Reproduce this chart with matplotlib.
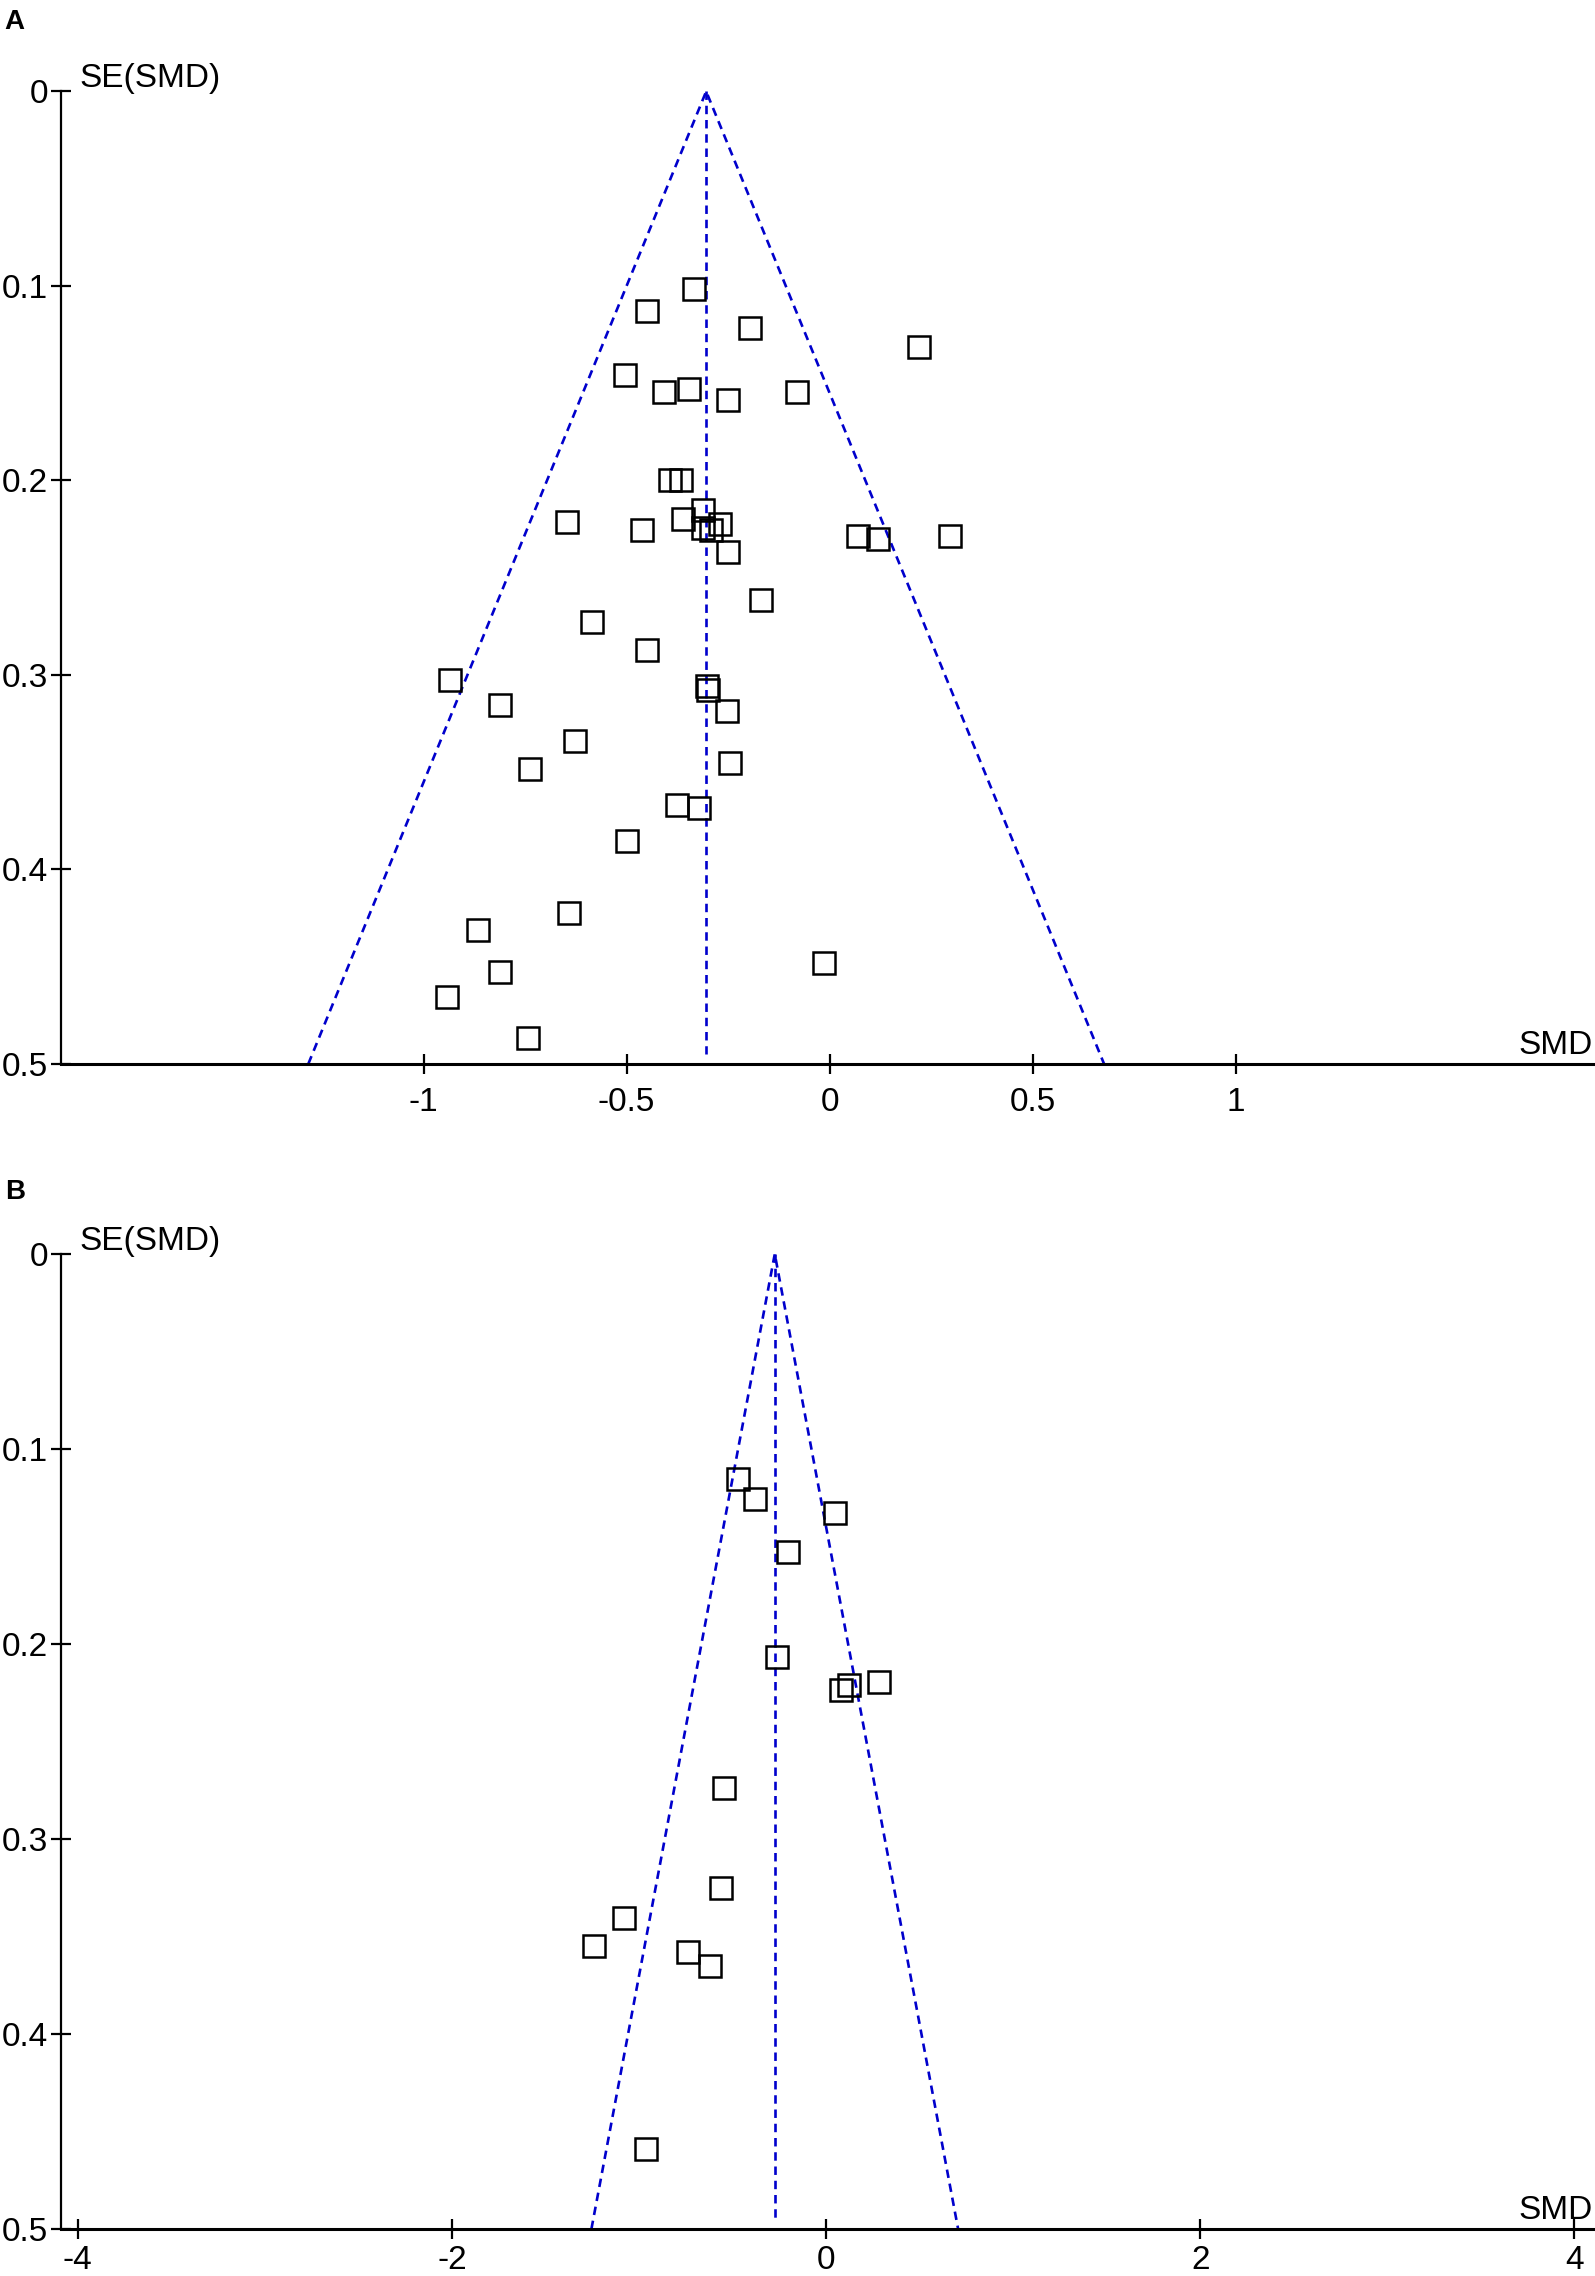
import matplotlib
matplotlib.use('Agg')
import matplotlib.pyplot as plt

plt.rcParams['font.family'] = ['Liberation Sans', 'DejaVu Sans']
plt.rcParams['axes.unicode_minus'] = False

# Panel A: SMD y SE(SMD) de cada estudio
smd_a = [-0.333, -0.449, -0.196, 0.220, -0.503, -0.408, -0.347, -0.250, -0.080,
         -0.394, -0.367, -0.312, -0.360, -0.647, -0.462, -0.270, -0.312, -0.293,
         -0.250, 0.070, 0.118, 0.296, -0.169, -0.586, -0.451, -0.935, -0.302,
         -0.300, -0.812, -0.253, -0.628, -0.737, -0.246, -0.375, -0.321, -0.498,
         -0.642, -0.867, -0.014, -0.812, -0.942, -0.744]
se_a = [0.1016, 0.1129, 0.1216, 0.1316, 0.1460, 0.1544, 0.1529, 0.1587, 0.1544,
        0.1998, 0.1998, 0.2152, 0.2200, 0.2212, 0.2255, 0.2226, 0.2247, 0.2255,
        0.2370, 0.2284, 0.2300, 0.2284, 0.2613, 0.2726, 0.2872, 0.3026, 0.3055,
        0.3075, 0.3156, 0.3184, 0.3340, 0.3484, 0.3455, 0.3670, 0.3684, 0.3854,
        0.4226, 0.4311, 0.4483, 0.4526, 0.4654, 0.4868]
pooled_a = -0.304

# Panel B
smd_b = [-0.470, -0.381, 0.048, -0.203, -0.264, 0.121, 0.079, 0.283, -0.545,
         -0.560, -1.078, -1.242, -0.738, -0.618, -0.960]
se_b = [0.1155, 0.1254, 0.1326, 0.1526, 0.2067, 0.2210, 0.2237, 0.2194, 0.2737,
        0.3251, 0.3407, 0.3549, 0.3577, 0.3649, 0.4590]
pooled_b = -0.274

se_max = 0.5
yticks = [0, 0.1, 0.2, 0.3, 0.4, 0.5]
ytick_labels = ['0', '0.1', '0.2', '0.3', '0.4', '0.5']
xticks_a = [-1, -0.5, 0, 0.5, 1]
xtick_labels_a = ['-1', '-0.5', '0', '0.5', '1']
xticks_b = [-4, -2, 0, 2, 4]
xtick_labels_b = ['-4', '-2', '0', '2', '4']

W, H = 1595, 2276
fig = plt.figure(figsize=(W / 100, H / 100), dpi=100)

azul = '#0000CC'


def funnel(rect, smd, se, pooled, xlim, xticks, xlabels, xpad=9):
    ax = fig.add_axes(rect)
    z = 1.96 * se_max
    ax.plot([pooled - z, pooled, pooled + z], [se_max, 0, se_max],
            color=azul, lw=1.9, dashes=(3.2, 2.2), zorder=2)
    ax.plot([pooled, pooled], [0, se_max * 0.99], color=azul, lw=1.9,
            dashes=(3.2, 2.2), zorder=2)
    ax.plot(smd, se, linestyle='none', marker='s', ms=16.5, mfc='none',
            mec='black', mew=1.8, zorder=3)
    ax.set_xlim(*xlim)
    ax.set_ylim(se_max, 0)
    ax.set_yticks(yticks)
    ax.set_yticklabels(ytick_labels)
    ax.set_xticks(xticks)
    ax.set_xticklabels(xlabels)
    for s in ['top', 'right']:
        ax.spines[s].set_visible(False)
    ax.spines['left'].set_linewidth(1.6)
    ax.spines['bottom'].set_linewidth(2.2)
    ax.tick_params(axis='both', direction='inout', length=15, width=1.6,
                   labelsize=24)
    ax.tick_params(axis='y', pad=2)
    ax.tick_params(axis='x', pad=xpad)
    ax.patch.set_alpha(0)
    ax.annotate('SE(SMD)', xy=(0, 1), xycoords='axes fraction',
                xytext=(13, 3), textcoords='offset points',
                ha='left', va='baseline', fontsize=24, annotation_clip=False)
    ax.annotate('SMD', xy=(1, 0), xycoords='axes fraction',
                xytext=(-2, 7), textcoords='offset points',
                ha='right', va='baseline', fontsize=24, annotation_clip=False)
    return ax


left = 61 / W
funnel([left, 1 - 1064 / H, 1 - left, (1064 - 91.4) / H],
       smd_a, se_a, pooled_a, (-1.893, 1.885), xticks_a, xtick_labels_a)
funnel([left, 1 - 2229 / H, 1 - left, (2229 - 1254) / H],
       smd_b, se_b, pooled_b, (-4.089, 4.11), xticks_b, xtick_labels_b, xpad=4)

fig.text(0.003, 1 - 22 / H, 'A', fontsize=20, fontweight='bold', va='center', ha='left')
fig.text(0.003, 1 - 1192 / H, 'B', fontsize=20, fontweight='bold', va='center', ha='left')

fig.savefig('out.png', dpi=100)
